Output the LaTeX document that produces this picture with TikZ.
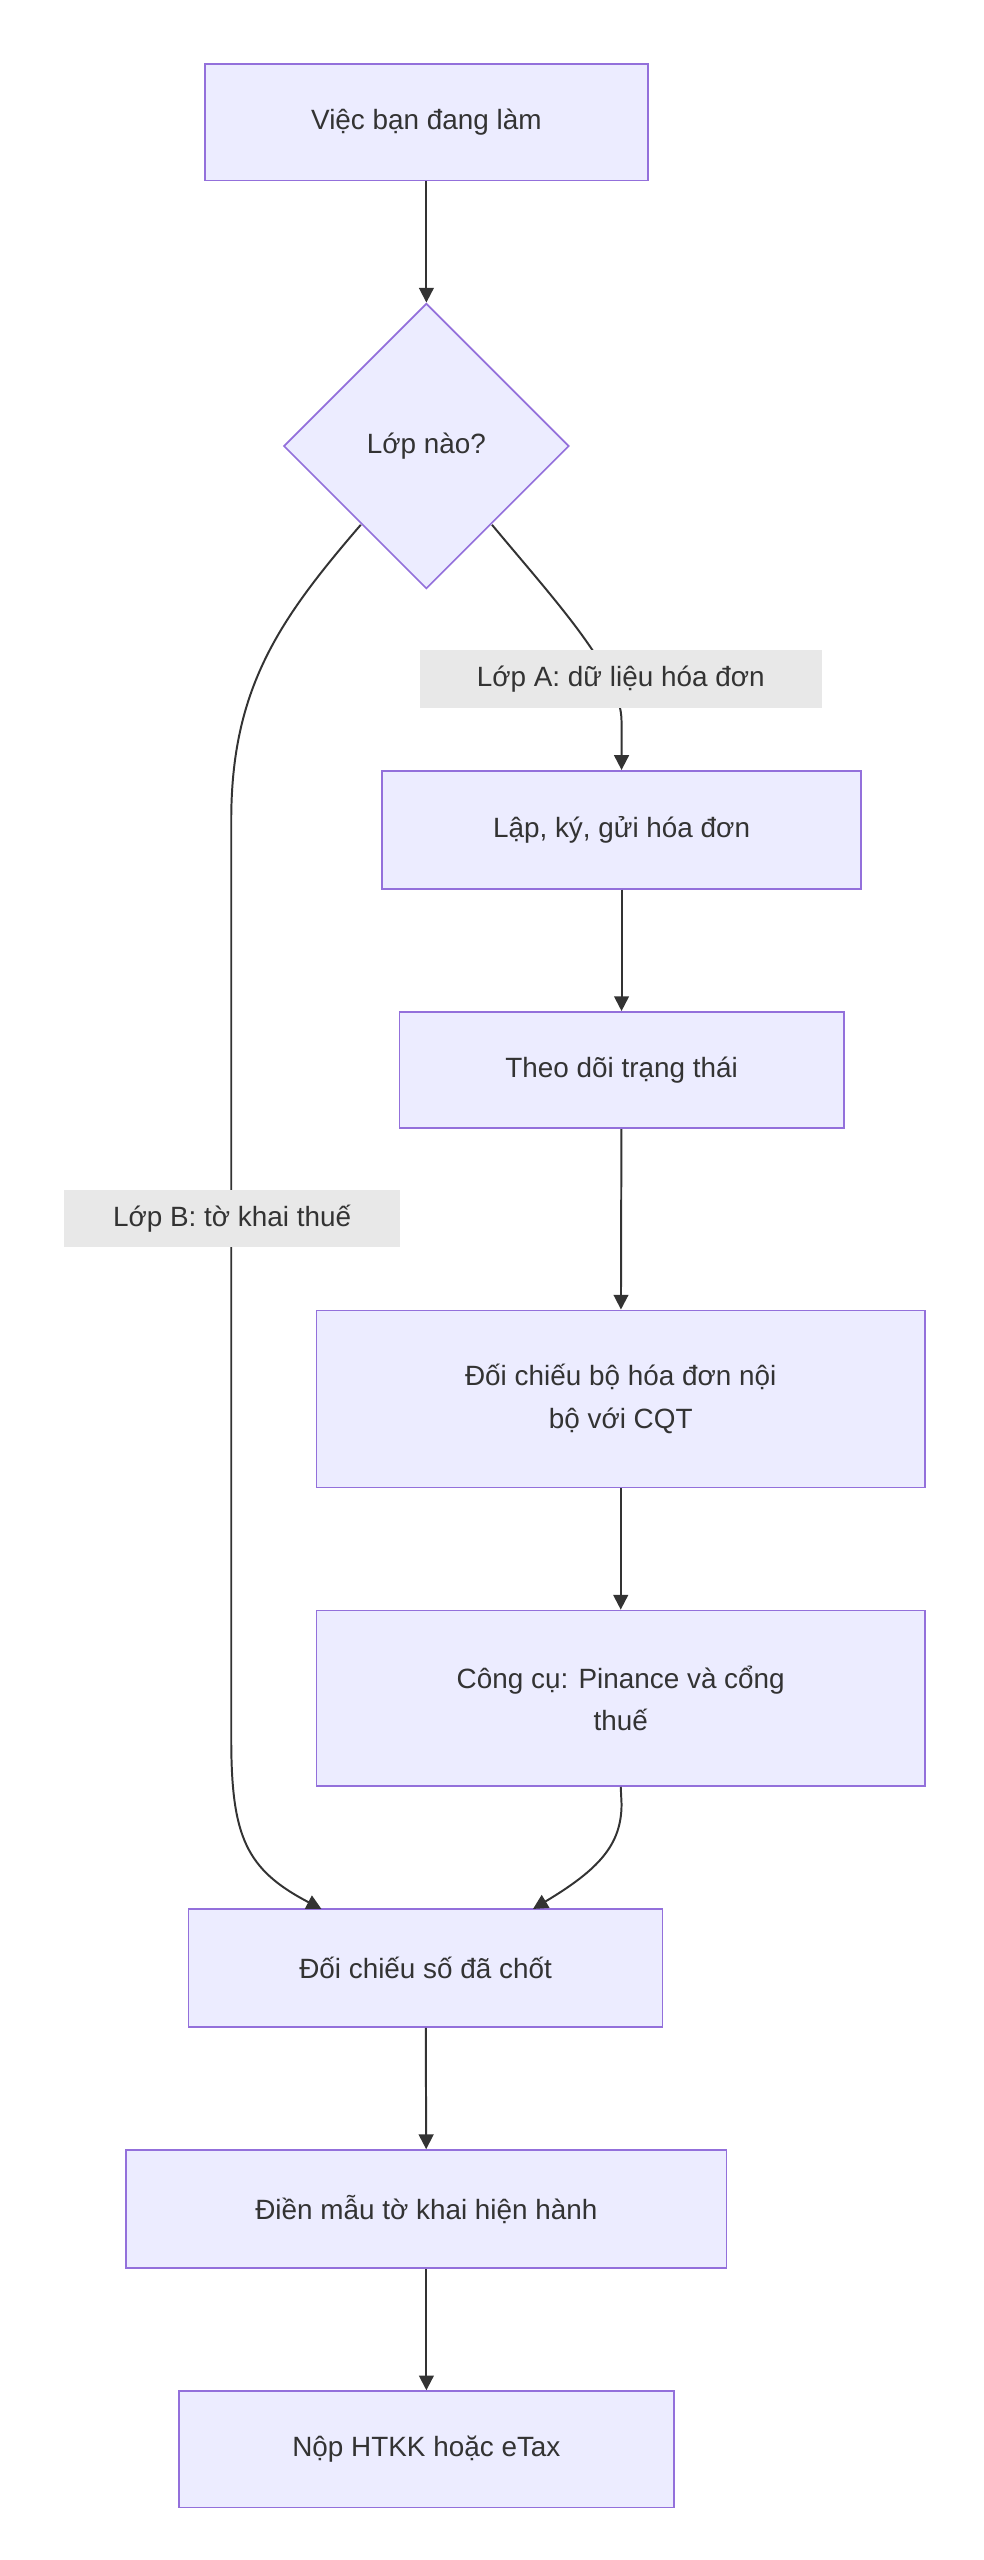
\documentclass[tikz,border=0pt]{standalone}
\usepackage{fontspec}
\setmainfont{Liberation Sans}
\usetikzlibrary{shapes.geometric,arrows.meta}
\definecolor{nfill}{HTML}{ECECFF}
\definecolor{nline}{HTML}{9370DB}
\definecolor{eline}{HTML}{333333}
\definecolor{lbg}{HTML}{E8E8E8}
\begin{document}
\begin{tikzpicture}[x=1pt,y=-1pt,
 box/.style={draw=nline,fill=nfill,line width=1pt,text=eline,font=\fontsize{17}{26}\selectfont,align=center,inner sep=0pt},
 dia/.style={diamond,draw=nline,fill=nfill,line width=1pt,text=eline,font=\fontsize{17}{26}\selectfont,minimum width=174pt,minimum height=174pt,inner sep=0pt,aspect=1},
 lab/.style={fill=lbg,text=eline,font=\fontsize{17}{26}\selectfont,inner sep=0pt,minimum height=35pt},
 arr/.style={draw=eline,line width=1.2pt,-{Triangle[length=9pt,width=9pt]}}]
\useasboundingbox (0,0) rectangle (600,1561);
\node[box,minimum width=270pt,minimum height=71pt] (a) at (260,74.5) {Việc bạn đang làm};
\node[dia] (b) at (260,272) {Lớp nào?};
\node[box,minimum width=292pt,minimum height=72pt] (c) at (379,506) {Lập, ký, gửi hóa đơn};
\node[box,minimum width=271pt,minimum height=71pt] (d) at (379,652.5) {Theo dõi trạng thái};
\node[box,minimum width=371pt,minimum height=108pt] (e) at (378.5,853) {Đối chiếu bộ hóa đơn nội\\bộ với CQT};
\node[box,minimum width=371pt,minimum height=107pt] (f) at (378.5,1035.5) {Công cụ: Pinance và cổng\\thuế};
\node[box,minimum width=289pt,minimum height=72pt] (g) at (259.5,1200) {Đối chiếu số đã chốt};
\node[box,minimum width=366pt,minimum height=72pt] (h) at (260,1347) {Điền mẫu tờ khai hiện hành};
\node[box,minimum width=302pt,minimum height=71pt] (i) at (260,1493.5) {Nộp HTKK hoặc eTax};
\coordinate (bl) at (220,320);
\coordinate (br) at (300,320);
\draw[arr] (a) -- (b);
\draw[arr] (br) .. controls (340,368) and (379,410) .. (379,440) -- (c.north);
\draw[arr] (bl) .. controls (170,378) and (141,420) .. (141,500) -- (141,1060) .. controls (141,1120) and (150,1140) .. (196,1164);
\draw[arr] (c) -- (d);
\draw[arr] (d) -- (e);
\draw[arr] (e) -- (f);
\draw[arr] (f.south) -- (379,1100) .. controls (379,1125) and (365,1140) .. (325,1164);
\draw[arr] (g) -- (h);
\draw[arr] (h) -- (i);
\node[lab,minimum width=245pt] (la) at (378.5,414) {Lớp A: dữ liệu hóa đơn};
\node[lab,minimum width=205pt] (lb) at (141.5,743) {Lớp B: tờ khai thuế};
\end{tikzpicture}
\end{document}
